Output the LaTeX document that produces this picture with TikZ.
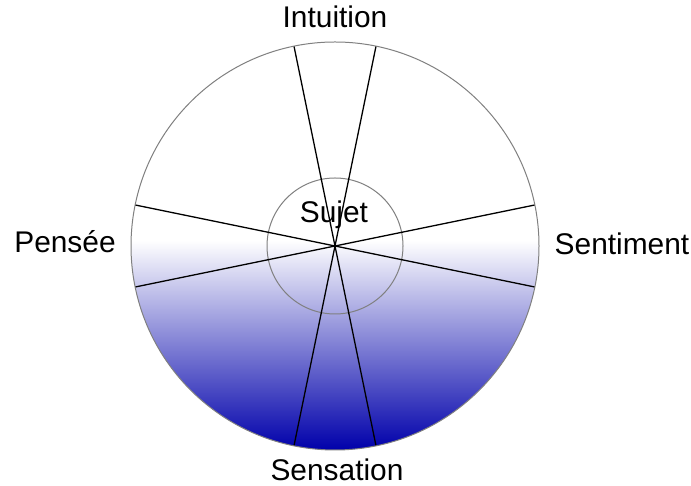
\documentclass[tikz,border=0pt]{standalone}
\usepackage{fontspec}
\setmainfont{Liberation Sans}
\usepackage{xcolor}
\definecolor{jungblue}{RGB}{0,0,170}
\definecolor{rimgray}{RGB}{128,128,128}
\usepackage{tikz}
\usetikzlibrary{calc}
\pgfdeclareverticalshading{jungshade}{100bp}{color(0bp)=(jungblue); color(25bp)=(jungblue); color(50.7bp)=(white); color(100bp)=(white)}

\begin{document}
\begin{tikzpicture}[x=1bp, y=1bp,
  rim/.style={draw=rimgray, line width=1bp},
  spoke/.style={draw=black, line width=1.3bp},
  fn/.style={font=\fontsize{30}{34}\selectfont, inner sep=0pt, anchor=base}
]
\useasboundingbox (0,0) rectangle (691,486);
\coordinate (c) at (335,240);

% disc with the gradient
\shade[shading=jungshade] (c) circle (204);
\draw[rim] (c) circle (68);

% four diameters
\foreach \a in {11.6, 78.4, 101.6, 168.4}
  \draw[spoke] (c) ++(\a:204) -- ++(\a+180:408);

\draw[rim] (c) circle (204);

% labels
\node[fn] (intuition) at (335,458) {Intuition};
\node[fn] (sensation) at (337,5) {Sensation};
\node[fn] (pensee) at (65,233) {Pensée};
\node[fn] (sentiment) at (622,231) {Sentiment};
\node[fn] (sujet) at (334,263) {Sujet};
\end{tikzpicture}
\end{document}
